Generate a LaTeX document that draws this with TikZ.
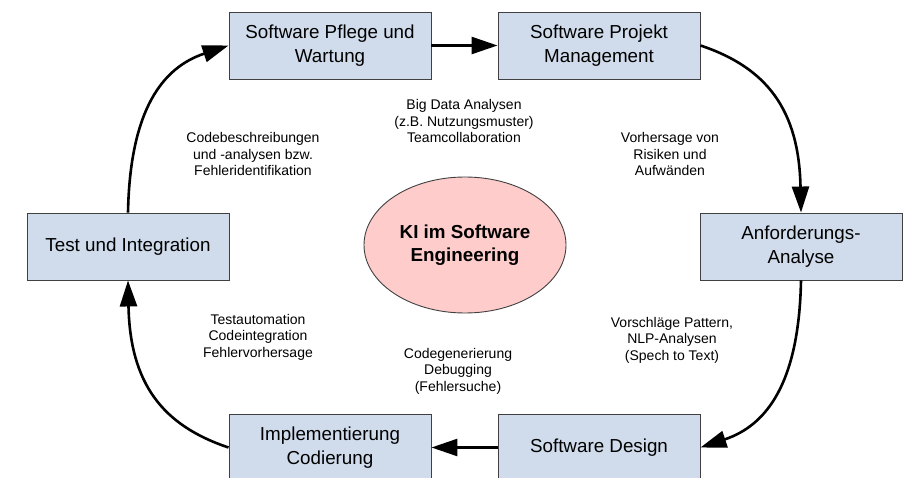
\documentclass[tikz,border=0pt]{standalone}
\usepackage{fontspec}
\setmainfont{Liberation Sans}
\usetikzlibrary{arrows.meta,shapes.geometric}
\definecolor{boxfill}{RGB}{208,220,236}
\definecolor{ellfill}{RGB}{255,204,204}
\definecolor{edgecol}{RGB}{64,64,64}
\begin{document}
\begin{tikzpicture}[x=1pt,y=-1pt,
  stepbox/.style={draw=edgecol, line width=0.9pt, fill=boxfill, minimum width=202pt, minimum height=67pt, inner sep=0pt, align=center, font=\fontsize{18.8}{23.5}\selectfont},
  core/.style={ellipse, draw=edgecol, line width=0.9pt, fill=ellfill, minimum width=202pt, minimum height=136pt, inner sep=0pt, align=center, font=\fontsize{18.8}{23}\selectfont\bfseries},
  note/.style={align=center, inner sep=0pt, font=\fontsize{14}{16.5}\selectfont},
  flow/.style={line width=2.6pt, -{Triangle[length=26pt,width=17pt]}}
]
\useasboundingbox (0,0) rectangle (910,478);
\clip (0,0) rectangle (910,478);

\node[stepbox] (test) at (128,246.5) {Test und Integration};
\node[stepbox] (pflege) at (330,45.5) {Software Pflege und\\Wartung};
\node[stepbox] (projekt) at (599,45.5) {Software Projekt\\Management};
\node[stepbox] (anf) at (801,246.5) {Anforderungs-\\Analyse};
\node[stepbox] (design) at (599,447.5) {Software Design};
\node[stepbox] (impl) at (330,447.5) {Implementierung\\Codierung};

\node[core] (ki) at (465,245) {KI im Software\\Engineering};

\node[note] (n1) at (464,121) {Big Data Analysen\\(z.B. Nutzungsmuster)\\Teamcollaboration};
\node[note] (n2) at (253,154) {Codebeschreibungen\\und -analysen bzw.\\Fehleridentifikation};
\node[note] (n3) at (670,154) {Vorhersage von\\Risiken und\\Aufwänden};
\node[note] (n4) at (258,337) {Testautomation\\Codeintegration\\Fehlervorhersage};
\node[note] (n5) at (672,340) {Vorschläge Pattern,\\NLP-Analysen\\(Spech to Text)};
\node[note] (n6) at (458,371) {Codegenerierung\\Debugging\\(Fehlersuche)};

\draw[flow] (test.north) .. controls +(2,-103) and +(-66,22) .. (pflege.west);
\draw[flow] (pflege.east) -- (projekt.west);
\draw[flow] (projekt.east) .. controls +(66,22) and +(-2,-103) .. (anf.north);
\draw[flow] (anf.south) .. controls +(-2,103) and +(66,-22) .. (design.east);
\draw[flow] (design.west) -- (impl.east);
\draw[flow] (impl.west) .. controls +(-66,-22) and +(2,103) .. (test.south);
\end{tikzpicture}
\end{document}
